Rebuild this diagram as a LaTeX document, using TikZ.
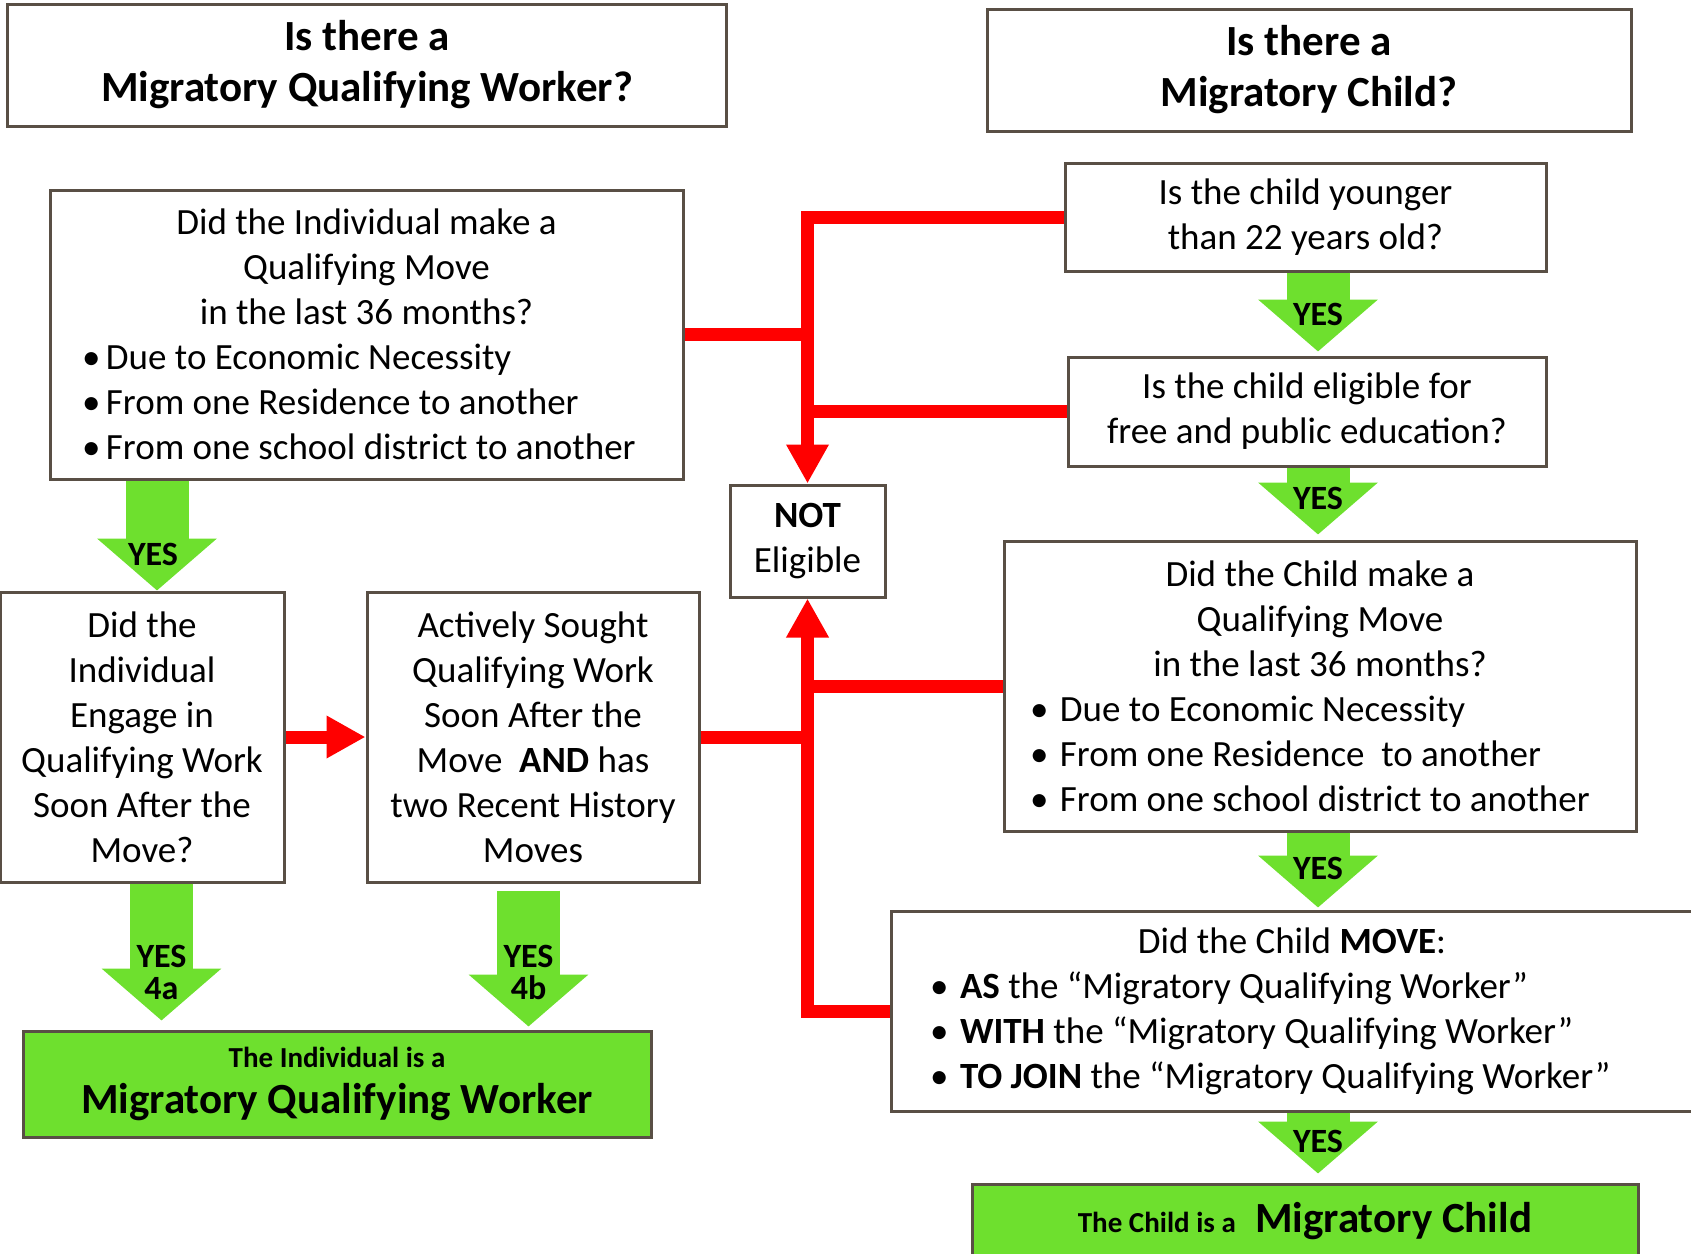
\documentclass[tikz,border=0pt]{standalone}
\usepackage{fontspec}
\setmainfont{Carlito}
\usetikzlibrary{arrows.meta,calc}
\definecolor{boxline}{RGB}{89,79,69}
\definecolor{okgreen}{RGB}{110,224,46}
\setlength\parindent{0pt}
\newcommand\bul[1]{\makebox[#1][l]{\textbullet}}

\begin{document}
\begin{tikzpicture}[x=1pt,y=-1pt,
    qbox/.style={draw=boxline,line width=3pt,inner sep=0pt,font=\fontsize{37}{45}\selectfont},
    headbox/.style={qbox,font=\bfseries\fontsize{43}{51}\selectfont,align=center},
    endbox/.style={qbox,fill=okgreen,font=\bfseries\fontsize{43}{46}\selectfont,align=center},
    noline/.style={draw=red,line width=13pt},
    noarrow/.style={noline,-{Triangle[width=40pt,length=39pt]}},
    yesarrow/.style={draw=okgreen,line width=63pt,-{Triangle[width=117pt,length=52pt]}},
    yeslabel/.style={pos=1,yshift=41pt,font=\bfseries\fontsize{34}{32}\selectfont,align=center}]

  \useasboundingbox (0,0) rectangle (1691,1253);

  % the two questions on top
  \node[headbox,minimum width=719pt,minimum height=122pt] (qworker) at (367,65)
    {Is there a\\Migratory Qualifying Worker?};
  \node[headbox,minimum width=644pt,minimum height=122pt] (qchild) at (1309,70)
    {Is there a\\Migratory Child?};

  % worker side
  \node[qbox,minimum width=633pt,minimum height=289pt,text width=569pt,align=flush left] (imove) at (366.5,334.5)
    {{\centering Did the Individual make a\\Qualifying Move\\in the last 36 months?\par}
     \bul{24pt}Due to Economic Necessity\\
     \bul{24pt}From one Residence to another\\
     \bul{24pt}From one school district to another};
  \node[qbox,minimum width=284pt,minimum height=290pt,align=center] (iengage) at (142,737)
    {Did the\\Individual\\Engage in\\Qualifying Work\\Soon After the\\Move?};
  \node[qbox,minimum width=332pt,minimum height=290pt,align=center] (active) at (533,737)
    {Actively Sought\\Qualifying Work\\Soon After the\\Move\ \ \textbf{AND} has\\two Recent History\\Moves};
  \node[endbox,minimum width=628pt,minimum height=106pt] (rworker) at (337,1084)
    {{\fontsize{29}{34}\selectfont The Individual is a}\\Migratory Qualifying Worker};

  \node[qbox,minimum width=155pt,minimum height=112pt,align=center] (notel) at (807.5,541)
    {\textbf{NOT}\\Eligible};

  % child side
  \node[qbox,minimum width=481pt,minimum height=108pt,align=center] (cyoung) at (1305.5,217)
    {Is the child younger\\than 22 years old?};
  \node[qbox,minimum width=478pt,minimum height=109pt,align=center] (celig) at (1307,411.5)
    {Is the child eligible for\\free and public education?};
  \node[qbox,minimum width=632pt,minimum height=290pt,text width=580pt,align=flush left] (cmove) at (1320,686)
    {{\centering Did the Child make a\\Qualifying Move\\in the last 36 months?\par}
     \bul{30pt}Due to Economic Necessity\\
     \bul{30pt}From one Residence\ \ to another\\
     \bul{30pt}From one school district to another};
  \node[qbox,minimum width=802pt,minimum height=200pt,text width=724pt,align=flush left] (cwith) at (1292,1011)
    {{\centering Did the Child \textbf{MOVE}:\par}
     \bul{30pt}\textbf{AS} the “Migratory Qualifying Worker”\\
     \bul{30pt}\textbf{WITH} the “Migratory Qualifying Worker”\\
     \bul{30pt}\textbf{TO JOIN} the “Migratory Qualifying Worker”};
  \node[endbox,minimum width=666pt,minimum height=74pt] (rchild) at (1305,1221)
    {{\fontsize{29}{34}\selectfont The Child is a}\ \ Migratory Child};

  % columns of the green arrows
  \coordinate (ycol) at (1318,0);
  \coordinate (ycola) at (157,0);
  \coordinate (ycolb) at (161.5,0);
  \coordinate (ycolc) at (528.5,0);

  % NO answers
  \draw[noarrow] (cyoung.west) -| (notel.north);
  \draw[noline] (imove.east) -- (imove.east -| notel.north);
  \draw[noline] (celig.west) -- (celig.west -| notel.north);
  \draw[noarrow] (cwith.west) -| (notel.south);
  \draw[noline] (cmove.west) -- (cmove.west -| notel.north);
  \draw[noline] (active.east) -- (active.east -| notel.north);
  \draw[noarrow] (iengage.east) -- (active.west);

  % YES answers
  \draw[yesarrow] (imove.south -| ycola) -- (iengage.north -| ycola)
    node[yeslabel,yshift=-5pt,xshift=-4pt] {YES};
  \draw[yesarrow,shorten >=9pt] (iengage.south -| ycolb) -- (rworker.north -| ycolb)
    node[yeslabel,yshift=16pt] {YES\\4a};
  \draw[yesarrow,shorten <=7pt,shorten >=3pt] (active.south -| ycolc) -- (rworker.north -| ycolc)
    node[yeslabel,yshift=16pt] {YES\\4b};
  \draw[yesarrow,shorten >=4pt] (cyoung.south -| ycol) -- (celig.north -| ycol) node[yeslabel] {YES};
  \draw[yesarrow,shorten >=5pt] (celig.south -| ycol) -- (cmove.north -| ycol) node[yeslabel] {YES};
  \draw[yesarrow,shorten >=2pt] (cmove.south -| ycol) -- (cwith.north -| ycol) node[yeslabel] {YES};
  \draw[yesarrow,shorten >=9pt] (cwith.south -| ycol) -- (rchild.north -| ycol) node[yeslabel] {YES};

\end{tikzpicture}
\end{document}
